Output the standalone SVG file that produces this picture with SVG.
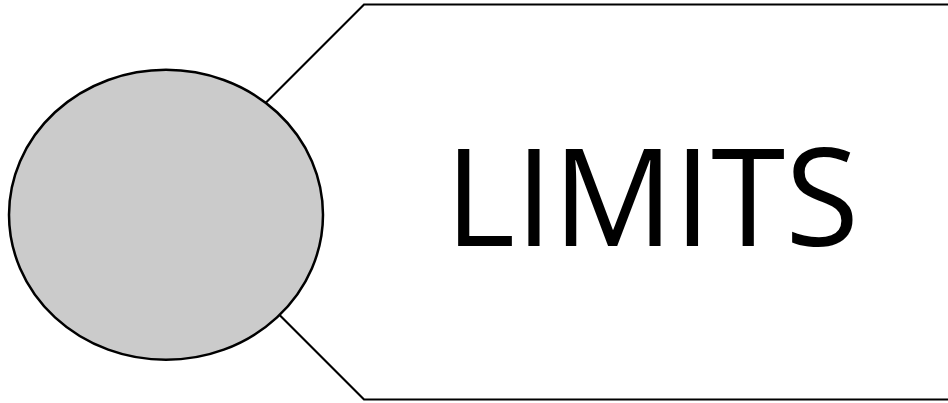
<svg xmlns="http://www.w3.org/2000/svg" width="948" height="403" viewBox="0 0 948 403">
<style>
.shape{fill:#fff;stroke:#000;stroke-width:2.2}
.node{fill:#cbcbcb;stroke:#000;stroke-width:2.5}
.label{font-family:"Open Sans","Liberation Sans",sans-serif;font-size:136px;fill:#000}
</style>
<rect width="948" height="403" fill="#fff"/>
<g id="tag">
<path class="shape" d="M952,4.5 L364,4.5 L166.5,202 L364,399.5 L952,399.5"/>
<text class="label" x="445" y="246" textLength="414" lengthAdjust="spacingAndGlyphs">LIMITS</text>
</g>
<g id="circle">
<ellipse class="node" cx="166" cy="214.8" rx="157" ry="145"/>
</g>
</svg>
